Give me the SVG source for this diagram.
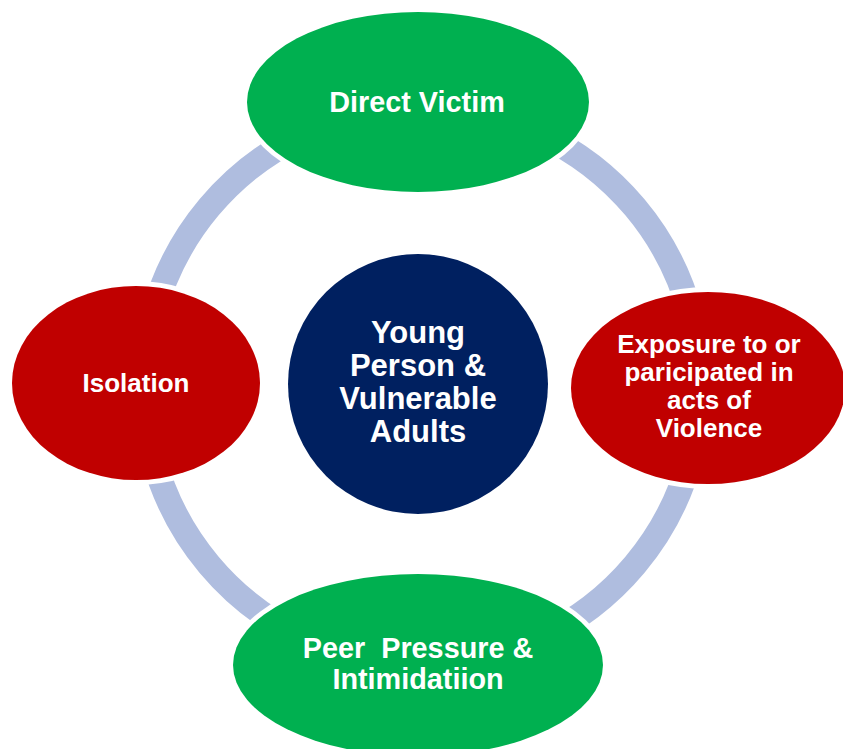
<svg xmlns="http://www.w3.org/2000/svg" width="843" height="749" viewBox="0 0 843 749">
<style>
.ring{fill:none;stroke:#AFBDDF;stroke-width:25}
.halo{fill:#FFFFFF}
.green{fill:#00B050}
.red{fill:#C00000}
.navy{fill:#002060}
.lbl{fill:#FFFFFF;font-family:"Liberation Sans",Arial,sans-serif;font-weight:bold;text-anchor:middle}
</style>
<rect width="843" height="749" fill="#FFFFFF"/>
<g id="connectors">
<path class="ring" d="M153.5,314 A278,278 0 0 1 304.5,134.05"/>
<path class="ring" d="M539.5,134.05 A278,278 0 0 1 690.5,314.05"/>
<path class="ring" d="M690.5,457.95 A278,278 0 0 1 539.5,637.95"/>
<path class="ring" d="M304.5,637.95 A278,278 0 0 1 153.5,457.95"/>
</g>
<g id="center">
<circle class="navy" cx="418" cy="384" r="130"/>
<text class="lbl" font-size="31"><tspan x="418" y="343">Young</tspan><tspan x="418" y="376">Person &amp;</tspan><tspan x="418" y="409">Vulnerable</tspan><tspan x="418" y="442">Adults</tspan></text>
</g>
<g id="direct-victim">
<ellipse class="halo" cx="418" cy="102" rx="176" ry="95"/>
<ellipse class="green" cx="418" cy="102" rx="171" ry="90"/>
<text class="lbl" font-size="28.8" x="417" y="112">Direct Victim</text>
</g>
<g id="exposure">
<ellipse class="halo" cx="708" cy="388" rx="142" ry="101"/>
<ellipse class="red" cx="708" cy="388" rx="137" ry="96"/>
<text class="lbl" font-size="26"><tspan x="709" y="353">Exposure to or</tspan><tspan x="709" y="381">paricipated in</tspan><tspan x="709" y="409">acts of</tspan><tspan x="709" y="437">Violence</tspan></text>
</g>
<g id="peer-pressure">
<ellipse class="halo" cx="418" cy="665" rx="190" ry="96"/>
<ellipse class="green" cx="418" cy="665" rx="185" ry="91"/>
<text class="lbl" font-size="28.8" xml:space="preserve"><tspan x="418" y="658">Peer  Pressure &amp;</tspan><tspan x="418" y="689">Intimidatiion</tspan></text>
</g>
<g id="isolation">
<ellipse class="halo" cx="136" cy="383" rx="129" ry="102"/>
<ellipse class="red" cx="136" cy="383" rx="124" ry="97"/>
<text class="lbl" font-size="26" x="136" y="392">Isolation</text>
</g>
</svg>
